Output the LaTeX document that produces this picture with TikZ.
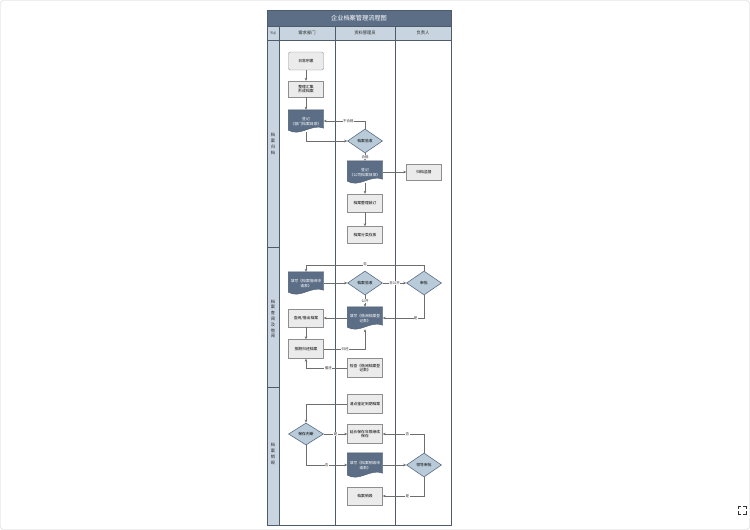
\documentclass[tikz,border=0pt]{standalone}
\usepackage{fontspec}
\newfontfamily\cjk{Noto Sans CJK SC}
\usetikzlibrary{shapes.geometric,arrows.meta,calc}
\pgfdeclarelayer{back}
\pgfdeclarelayer{bg}
\pgfsetlayers{back,bg,main}
\definecolor{slate}{HTML}{5B6E86}
\definecolor{lanehead}{HTML}{C8D5E0}
\definecolor{diafill}{HTML}{B9CAD9}
\definecolor{boxfill}{HTML}{EBEBEB}
\definecolor{boxline}{HTML}{8E8E8E}
\definecolor{linec}{HTML}{6E6E6E}
\definecolor{framec}{HTML}{4D5B6B}
\tikzset{
 fs/.style={font=\cjk\fontsize{3.8}{4.6}\selectfont},
 box/.style={fs, rectangle, draw=boxline, fill=boxfill, line width=0.4pt, minimum width=35pt, minimum height=18pt, inner sep=0.5pt, align=center, text width=33pt},
 rbox/.style={box, rounded corners=2pt},
 doc/.style={fs, rectangle, draw=none, minimum width=35pt, minimum height=22pt, inner sep=0.5pt, align=center, text=white, text width=33pt, text depth=4pt},
 dia/.style={fs, diamond, draw=slate, fill=diafill, line width=0.6pt, minimum width=35pt, minimum height=24pt, inner sep=0pt, align=center},
 flow/.style={draw=linec, line width=0.4pt, -{Stealth[length=3pt,width=2.6pt]}},
 lbl/.style={font=\cjk\fontsize{3.5}{4}\selectfont, fill=white, inner sep=0.4pt, text=black!80},
 hdr/.style={font=\cjk\fontsize{4.3}{5}\selectfont, text=black!85},
 phase/.style={font=\cjk\fontsize{4.2}{5.8}\selectfont, align=center, text=black!85},
 frameline/.style={draw=framec, line width=0.6pt},
}
\newcommand\docbg[1]{%
 \begin{pgfonlayer}{bg}
 \path[fill=slate, draw=slate!80!black, line width=0.4pt] (#1.north west) -- (#1.north east) -- ([yshift=4pt]#1.south east) .. controls ([xshift=-12pt,yshift=9pt]#1.south east) and ([xshift=12pt,yshift=-5pt]#1.south west) .. ([yshift=2pt]#1.south west) -- cycle;
 \end{pgfonlayer}}
\begin{document}
\begin{tikzpicture}[x=1pt,y=-1pt]
\useasboundingbox (0,0) rectangle (750,530);
\begin{pgfonlayer}{back}
\fill[white] (0,0) rectangle (750,530);
\draw[gray!35, rounded corners=3pt] (0.5,0.5) rectangle (749.5,529.5);
\draw[black!80, line width=0.8pt] (738,509) -- (738,506) -- (741,506) (743,506) -- (746,506) -- (746,509) (746,511) -- (746,514) -- (743,514) (741,514) -- (738,514) -- (738,511);
\fill[slate] (267,10) rectangle (451,26);
\fill[lanehead] (267,26) rectangle (451,40);
\fill[lanehead] (267,40) rectangle (279,525);
\draw[frameline] (267,10) rectangle (451,525);
\draw[frameline] (267,26) -- (451,26) (267,40) -- (451,40);
\draw[frameline] (279,26) -- (279,525) (335,26) -- (335,525) (395,26) -- (395,525);
\draw[frameline] (267,247) -- (279,247) (267,387) -- (279,387);
\end{pgfonlayer}
\node[font=\cjk\fontsize{6.2}{7}\selectfont, text=white] (title) at (359,18) {企业档案管理流程图};
\node[hdr, font=\cjk\fontsize{3}{4}\selectfont] (h0) at (273,33) {节点};
\node[hdr] (h1) at (307,33) {需求部门};
\node[hdr] (h2) at (365,33) {资料管理员};
\node[hdr] (h3) at (423,33) {负责人};
\node[phase] (p1) at (273,144) {档\\案\\归\\档};
\node[phase] (p2) at (273,319) {档\\案\\查\\阅\\及\\借\\阅};
\node[phase] (p3) at (273,454) {档\\案\\销\\毁};
% phase 1
\node[rbox] (n1) at (306,61) {日常积累};
\node[box, minimum height=16pt] (n2) at (306,89) {整理汇集\\形成档案};
\node[doc] (d1) at (306,121) {登记\\《部门档案目录》};
\node[dia] (k1) at (365,141) {档案验收};
\node[doc] (d2) at (365,172) {登记\\《公司档案目录》};
\node[box, minimum height=16pt] (n3) at (424,172) {归档监督};
\node[box] (n4) at (365,203) {档案整理装订};
\node[box, minimum height=17pt] (n5) at (365,235) {档案分类存放};
% phase 2
\node[doc] (d3) at (306,283) {填写《档案借阅申\\请表》};
\node[dia] (k2) at (365,283) {档案验收};
\node[dia] (k3) at (424,283) {审批};
\node[doc] (d4) at (365,318) {填写《借阅档案登\\记表》};
\node[box] (n6) at (306,318) {查阅/借出档案};
\node[box, minimum height=19pt] (n7) at (306,349) {按期归还档案};
\node[box, minimum height=19pt] (n8) at (365,368) {检查《借阅档案登\\记表》};
% phase 3
\node[box, minimum height=19pt] (n9) at (365,404) {清点鉴定到期档案};
\node[dia, minimum height=22pt] (k4) at (306,434) {保存判断};
\node[box, minimum height=19pt] (n10) at (365,434) {延长保存年限继续\\保存};
\node[doc, minimum height=24pt] (d5) at (365,465) {填写《档案销毁申\\请表》};
\node[dia] (k5) at (424,465) {领导审批};
\node[box] (n11) at (365,496) {档案销毁};
\docbg{d1}\docbg{d2}\docbg{d3}\docbg{d4}\docbg{d5}
% connectors phase 1
\draw[flow] (n1) -- (n2);
\draw[flow] (n2) -- (d1);
\draw[flow] (d1.south) |- (k1.west);
\draw[flow] (k1.north) |- node[lbl, pos=0.7] {不合格} (d1.east);
\draw[flow] (k1) -- node[lbl] {合格} (d2);
\draw[flow] (d2.east) -- (n3.west);
\draw[flow] (d2) -- (n4);
\draw[flow] (n4) -- (n5);
% connectors phase 2
\draw[flow] (k3.north) -- ([yshift=6pt]k3.north) -| node[lbl, pos=0.25] {否} (d3.north);
\draw[flow] (d3.east) -- (k2.west);
\draw[flow] (k2) -- node[lbl] {非公开} (k3);
\draw[flow] (k2) -- node[lbl] {公开} (d4);
\draw[flow] (k3.south) |- node[lbl, pos=0.6] {是} (d4.east);
\draw[flow] (d4.west) -- (n6.east);
\draw[flow] (n6) -- (n7);
\draw[flow] (n7.east) -| node[lbl, pos=0.26] {归还} (d4.south);
\draw[flow] (n8.west) -| node[lbl, pos=0.23] {催还} (n7.south);
% connectors phase 3
\draw[flow] (n9.west) -| (k4.north);
\draw[flow] (k4) -- node[lbl] {是} (n10);
\draw[flow] (k4.south) |- node[lbl, pos=0.75] {否} (d5.west);
\draw[flow] (d5) -- (k5);
\draw[flow] (k5.north) |- node[lbl, pos=0.7] {否} (n10.east);
\draw[flow] (k5.south) |- node[lbl, pos=0.7] {是} (n11.east);
\end{tikzpicture}
\end{document}
